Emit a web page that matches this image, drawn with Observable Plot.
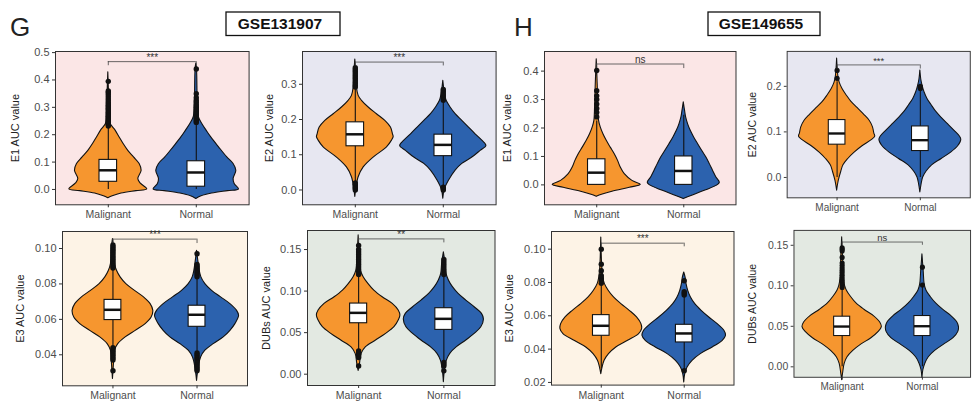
<!DOCTYPE html>
<html><head><meta charset="utf-8">
<script src="https://cdn.jsdelivr.net/npm/d3@7"></script>
<script src="https://cdn.jsdelivr.net/npm/@observablehq/plot@0.6"></script>
<style>
body{margin:0;background:#fff;overflow:hidden;}
#root{position:relative;width:972px;height:403px;overflow:hidden;font-family:"Liberation Sans",Arial,sans-serif;}
.panel{position:absolute;}
#overlay{position:absolute;left:0;top:0;}
</style></head>
<body><div id="root"></div>
<script>
// ---------- categories ----------
const groups = ["Malignant", "Normal"];
const datasets = ["GSE131907", "GSE149655"];
const panelLetters = ["G", "H"];
const fillColors = ["#f6962f", "#2c62ae"];

// ---------- violin density profiles: [value, half-width in band units] ----------
const G_E1_malignant_violin = [[-0.032,0],[-0.025,0.05],[-0.015,0.15],[-0.006,0.32],[0,0.443],[0.022,0.367],[0.038,0.341],[0.068,0.379],[0.093,0.356],[0.117,0.292],[0.141,0.227],[0.166,0.174],[0.19,0.129],[0.215,0.083],[0.227,0.053],[0.239,0.027],[0.276,0.015],[0.324,0.011],[0.428,0]];
const G_E1_normal_violin = [[-0.035,0],[-0.025,0.06],[-0.015,0.18],[-0.006,0.36],[0,0.485],[0.02,0.436],[0.038,0.424],[0.068,0.455],[0.093,0.424],[0.117,0.352],[0.154,0.258],[0.19,0.17],[0.215,0.117],[0.239,0.068],[0.263,0.03],[0.288,0.019],[0.324,0.015],[0.44,0.008],[0.46,0]];
const G_E2_malignant_violin = [[-0.02,0],[0,0.01],[0.036,0.038],[0.064,0.095],[0.092,0.208],[0.121,0.36],[0.14,0.417],[0.15,0.436],[0.158,0.428],[0.177,0.405],[0.196,0.341],[0.215,0.246],[0.234,0.152],[0.253,0.076],[0.267,0.038],[0.29,0.019],[0.33,0.011],[0.37,0]];
const G_E2_normal_violin = [[-0.025,0],[0,0.015],[0.026,0.064],[0.055,0.14],[0.074,0.216],[0.092,0.33],[0.111,0.424],[0.125,0.49],[0.14,0.443],[0.158,0.367],[0.177,0.292],[0.196,0.216],[0.215,0.14],[0.234,0.083],[0.253,0.038],[0.272,0.019],[0.31,0]];
const G_E3_malignant_violin = [[0.0263,0],[0.035,0.012],[0.0423,0.024],[0.046,0.063],[0.0498,0.151],[0.0535,0.27],[0.0573,0.389],[0.061,0.46],[0.0648,0.48],[0.0686,0.448],[0.0724,0.369],[0.0761,0.262],[0.0799,0.159],[0.0837,0.091],[0.0874,0.048],[0.0912,0.024],[0.0987,0.016],[0.1053,0]];
const G_E3_normal_violin = [[0.0253,0],[0.0329,0.02],[0.0385,0.048],[0.0423,0.099],[0.046,0.198],[0.0498,0.317],[0.0535,0.397],[0.0573,0.456],[0.062,0.5],[0.0648,0.476],[0.0686,0.397],[0.0724,0.286],[0.0761,0.179],[0.0799,0.099],[0.0837,0.052],[0.0874,0.032],[0.0912,0.02],[0.0987,0]];
const G_DUBs_malignant_violin = [[0.004,0],[0.0124,0.016],[0.0245,0.035],[0.0325,0.086],[0.0405,0.204],[0.0485,0.322],[0.0565,0.42],[0.0646,0.47],[0.0706,0.49],[0.0766,0.47],[0.0846,0.4],[0.0926,0.282],[0.1006,0.184],[0.1087,0.114],[0.1167,0.059],[0.1247,0.027],[0.1367,0.016],[0.167,0]];
const G_DUBs_normal_violin = [[-0.0096,0],[0.0044,0.012],[0.0164,0.035],[0.0245,0.075],[0.0325,0.153],[0.0405,0.263],[0.0485,0.361],[0.0565,0.439],[0.0658,0.47],[0.0726,0.447],[0.0806,0.361],[0.0886,0.263],[0.0966,0.173],[0.1047,0.106],[0.1127,0.059],[0.1207,0.031],[0.1327,0.02],[0.1467,0]];
const H_E1_malignant_violin = [[-0.042,0],[-0.035,0.06],[-0.024,0.18],[-0.01,0.38],[0,0.506],[0.014,0.41],[0.0375,0.322],[0.061,0.276],[0.0845,0.245],[0.108,0.207],[0.131,0.161],[0.155,0.115],[0.178,0.077],[0.202,0.046],[0.225,0.027],[0.272,0.019],[0.354,0.011],[0.442,0]];
const H_E1_normal_violin = [[-0.05,0],[-0.039,0.088],[-0.021,0.241],[0,0.395],[0.008,0.414],[0.026,0.375],[0.049,0.337],[0.073,0.299],[0.096,0.26],[0.12,0.211],[0.143,0.165],[0.167,0.119],[0.19,0.08],[0.213,0.05],[0.237,0.027],[0.26,0.015],[0.29,0]];
const H_E2_malignant_violin = [[-0.029,0],[-0.008,0.019],[0.0126,0.05],[0.0266,0.076],[0.0406,0.134],[0.0545,0.21],[0.0685,0.305],[0.0825,0.42],[0.0895,0.458],[0.0965,0.447],[0.11,0.431],[0.124,0.393],[0.138,0.324],[0.152,0.248],[0.166,0.172],[0.18,0.115],[0.194,0.065],[0.208,0.031],[0.222,0.015],[0.261,0]];
const H_E2_normal_violin = [[-0.033,0],[-0.015,0.015],[0,0.034],[0.0126,0.073],[0.0266,0.141],[0.0406,0.256],[0.0545,0.37],[0.0685,0.454],[0.0825,0.492],[0.0895,0.477],[0.103,0.408],[0.117,0.332],[0.131,0.256],[0.145,0.187],[0.159,0.134],[0.173,0.084],[0.187,0.05],[0.201,0.027],[0.215,0.011],[0.235,0]];
const H_E3_malignant_violin = [[0.025,0],[0.029,0.016],[0.033,0.04],[0.037,0.093],[0.041,0.181],[0.045,0.323],[0.049,0.456],[0.052,0.492],[0.055,0.484],[0.059,0.431],[0.063,0.343],[0.067,0.242],[0.071,0.153],[0.075,0.089],[0.079,0.044],[0.083,0.024],[0.089,0.012],[0.107,0]];
const H_E3_normal_violin = [[0.02,0],[0.025,0.012],[0.029,0.04],[0.033,0.1],[0.037,0.2],[0.041,0.343],[0.045,0.464],[0.048,0.504],[0.051,0.484],[0.055,0.403],[0.059,0.302],[0.063,0.21],[0.067,0.133],[0.071,0.081],[0.075,0.048],[0.079,0.028],[0.083,0.016],[0.086,0]];
const H_DUBs_malignant_violin = [[-0.0165,0],[-0.0078,0.012],[0.0039,0.032],[0.0118,0.067],[0.0196,0.138],[0.0274,0.237],[0.0353,0.364],[0.0431,0.455],[0.049,0.494],[0.0548,0.474],[0.0627,0.395],[0.0705,0.277],[0.0783,0.178],[0.0862,0.111],[0.094,0.059],[0.0999,0.036],[0.1097,0.02],[0.133,0.012],[0.16,0]];
const H_DUBs_normal_violin = [[-0.0137,0],[-0.0039,0.012],[0.0039,0.036],[0.0118,0.079],[0.0196,0.158],[0.0274,0.269],[0.0353,0.387],[0.0431,0.447],[0.049,0.455],[0.0548,0.435],[0.0627,0.36],[0.0705,0.257],[0.0783,0.17],[0.0862,0.103],[0.094,0.051],[0.1018,0.028],[0.1175,0.016],[0.139,0]];

// ---------- box stats: [lower whisker, Q1, median, Q3, upper whisker] for Malignant, Normal ----------
const G_E1_box = [[0, 0.028, 0.07, 0.108, 0.228], [0, 0.01, 0.062, 0.103, 0.24]];
const G_E2_box = [[0.02, 0.124, 0.158, 0.192, 0.29], [0.01, 0.096, 0.128, 0.157, 0.25]];
const G_E3_box = [[0.045, 0.0596, 0.0654, 0.071, 0.088], [0.042, 0.0558, 0.0626, 0.0677, 0.085]];
const G_DUBs_box = [[0.028, 0.0613, 0.0738, 0.085, 0.12], [0.015, 0.0533, 0.0666, 0.0794, 0.12]];
const H_E1_box = [[0, 0, 0.043, 0.09, 0.225], [0, 0, 0.049, 0.1, 0.245]];
const H_E2_box = [[0, 0.072, 0.0965, 0.126, 0.21], [0, 0.058, 0.0818, 0.112, 0.195]];
const H_E3_box = [[0.028, 0.048, 0.054, 0.0604, 0.078], [0.028, 0.044, 0.0494, 0.0546, 0.072]];
const H_DUBs_box = [[0, 0.038, 0.0497, 0.0619, 0.097], [0, 0.038, 0.0501, 0.0627, 0.1]];

// ---------- outliers ----------
const G_E1_malignant_out = [0.232,0.237,0.242,0.247,0.252,0.257,0.262,0.267,0.272,0.277,0.282,0.287,0.292,0.297,0.302,0.307,0.312,0.318,0.325,0.332,0.34,0.348,0.355,0.36,0.395];
const G_E1_normal_out = [0.245,0.25,0.255,0.26,0.265,0.27,0.275,0.28,0.285,0.29,0.295,0.3,0.305,0.31,0.318,0.325,0.335,0.35,0.44];
const G_E2_malignant_out = [0,0.004,0.008,0.012,0.016,0.02,0.292,0.297,0.302,0.307,0.312,0.317,0.322,0.327,0.332,0.337,0.342,0.347];
const G_E2_normal_out = [0,0.004,0.008,0.255,0.26,0.265,0.27,0.275,0.28,0.285];
const G_E3_malignant_out = [0.031,0.037,0.038,0.039,0.04,0.041,0.042,0.043,0.044,0.089,0.09,0.091,0.092,0.093,0.094,0.095,0.096,0.097,0.098,0.099,0.1,0.101,0.102];
const G_E3_normal_out = [0.031,0.032,0.033,0.034,0.035,0.036,0.037,0.038,0.039,0.04,0.041,0.084,0.085,0.086,0.087,0.088,0.089,0.09,0.091,0.097];
const G_DUBs_malignant_out = [0.01,0.02,0.022,0.024,0.026,0.028,0.12,0.123,0.126,0.129,0.132,0.135,0.138,0.141,0.144,0.147,0.15,0.155];
const G_DUBs_normal_out = [0.004,0.01,0.012,0.014,0.12,0.123,0.126,0.129,0.132,0.135,0.138];
const H_E1_malignant_out = [0.239,0.255,0.269,0.284,0.3,0.313,0.331,0.402];
const H_E1_normal_out = [];
const H_E2_malignant_out = [0.2175,0.235];
const H_E2_normal_out = [0.195,0.198,0.2];
const H_E3_malignant_out = [0.0795,0.081,0.0825,0.084,0.087,0.091,0.1];
const H_E3_normal_out = [0.027,0.0725,0.0735,0.0745,0.081];
const H_DUBs_malignant_out = [0.098,0.101,0.104,0.107,0.11,0.113,0.116,0.119,0.122,0.125,0.128,0.135,0.143,0.145,0.147];
const H_DUBs_normal_out = [0.101,0.123];

// ---------- significance: [bracket value, tick end value, label] ----------
const G_E1_sig = [0.467, 0.452, "***"];
const G_E2_sig = [0.363, 0.352, "***"];
const G_E3_sig = [0.1053, 0.1028, "***"];
const G_DUBs_sig = [0.1628, 0.158, "**"];
const H_E1_sig = [0.425, 0.409, "ns"];
const H_E2_sig = [0.247, 0.238, "***"];
const H_E3_sig = [0.1036, 0.1014, "***"];
const H_DUBs_sig = [0.154, 0.15, "ns"];

// ---------- y ticks ----------
const E1_ticks_G = [0, 0.1, 0.2, 0.3, 0.4, 0.5];
const E2_ticks_G = [0, 0.1, 0.2, 0.3];
const E3_ticks_G = [0.04, 0.06, 0.08, 0.10];
const DUBs_ticks = [0, 0.05, 0.10, 0.15];
const E1_ticks_H = [0, 0.1, 0.2, 0.3, 0.4];
const E2_ticks_H = [0, 0.1, 0.2];
const E3_ticks_H = [0.02, 0.04, 0.06, 0.08, 0.10];

const f1 = d3.format(".1f"), f2 = d3.format(".2f");

// layout: frame [left, top, right, bottom] in page px, y-domain, label offset
const panels = [
  {frame:[55,50.7,248.6,204], dom:[-0.056,0.504], ticks:E1_ticks_G, fmt:f1, label:"E1 AUC value", lo:40, bg:"#fbe6e6", v:[G_E1_malignant_violin,G_E1_normal_violin], box:G_E1_box, out:[G_E1_malignant_out,G_E1_normal_out], sig:G_E1_sig},
  {frame:[302,50.7,495.6,204], dom:[-0.042,0.393], ticks:E2_ticks_G, fmt:f1, label:"E2 AUC value", lo:33, bg:"#e7e7f1", v:[G_E2_malignant_violin,G_E2_normal_violin], box:G_E2_box, out:[G_E2_malignant_out,G_E2_normal_out], sig:G_E2_sig},
  {frame:[62,230.7,247,385], dom:[0.0225,0.1096], ticks:E3_ticks_G, fmt:f2, label:"E3 AUC value", lo:42, bg:"#fdf3e6", v:[G_E3_malignant_violin,G_E3_normal_violin], box:G_E3_box, out:[G_E3_malignant_out,G_E3_normal_out], sig:G_E3_sig},
  {frame:[306.5,230,494,385], dom:[-0.0136,0.1729], ticks:DUBs_ticks, fmt:f2, label:"DUBs AUC value", lo:41.5, bg:"#e3e9e2", v:[G_DUBs_malignant_violin,G_DUBs_normal_violin], box:G_DUBs_box, out:[G_DUBs_malignant_out,G_DUBs_normal_out], sig:G_DUBs_sig},
  {frame:[544,50.7,735.5,204], dom:[-0.070,0.469], ticks:E1_ticks_H, fmt:f1, label:"E1 AUC value", lo:37, bg:"#fbe6e6", v:[H_E1_malignant_violin,H_E1_normal_violin], box:H_E1_box, out:[H_E1_malignant_out,H_E1_normal_out], sig:H_E1_sig},
  {frame:[789.3,50.7,981,204], dom:[-0.0447,0.2767], ticks:E2_ticks_H, fmt:f1, label:"E2 AUC value", lo:36, bg:"#e7e7f1", v:[H_E2_malignant_violin,H_E2_normal_violin], box:H_E2_box, out:[H_E2_malignant_out,H_E2_normal_out], sig:H_E2_sig},
  {frame:[551,230.7,733.5,384.3], dom:[0.0184,0.1106], ticks:E3_ticks_H, fmt:f2, label:"E3 AUC value", lo:42, bg:"#fdf3e6", v:[H_E3_malignant_violin,H_E3_normal_violin], box:H_E3_box, out:[H_E3_malignant_out,H_E3_normal_out], sig:H_E3_sig},
  {frame:[796,230,981.5,384.3], dom:[-0.0129,0.1684], ticks:DUBs_ticks, fmt:f2, label:"DUBs AUC value", lo:43, bg:"#e3e9e2", v:[H_DUBs_malignant_violin,H_DUBs_normal_violin], box:H_DUBs_box, out:[H_DUBs_malignant_out,H_DUBs_normal_out], sig:H_DUBs_sig}
];

const root = document.getElementById("root");
const ML = 52, MR = 2, MT = 2, MB = 24;
const BOXW = 0.1;
const INK = "#111";

for (const p of panels) {
  const [L, T, R, B] = p.frame;
  const marks = [Plot.frame({fill: p.bg})];
  groups.forEach((name, i) => {
    const g = i + 1;
    marks.push(Plot.areaX(p.v[i], {y: d => d[0], x1: d => g - d[1], x2: d => g + d[1], fill: fillColors[i], stroke: INK, strokeWidth: 1.1, curve: "catmull-rom"}));
  });
  groups.forEach((name, i) => {
    const g = i + 1, b = p.box[i];
    marks.push(Plot.ruleX([b], {x: () => g, y1: d => d[0], y2: d => d[4], stroke: INK, strokeWidth: 1.1}));
    marks.push(Plot.rect([b], {x1: () => g - BOXW, x2: () => g + BOXW, y1: d => d[1], y2: d => d[3], fill: "white", stroke: INK, strokeWidth: 1.1}));
    marks.push(Plot.ruleY([b], {y: d => d[2], x1: () => g - BOXW, x2: () => g + BOXW, stroke: INK, strokeWidth: 2.5}));
    marks.push(Plot.dot(p.out[i], {x: () => g, y: d => d, r: 2.7, fill: INK, stroke: "none"}));
  });
  const s = p.sig;
  marks.push(Plot.ruleY([s], {y: d => d[0], x1: () => 1, x2: () => 2, stroke: "#444", strokeWidth: 0.8}));
  marks.push(Plot.ruleX([1, 2], {x: d => d, y1: () => s[0], y2: () => s[1], stroke: "#444", strokeWidth: 0.8}));
  marks.push(Plot.text([s], {x: () => 1.5, y: d => d[0], text: d => d[2], lineAnchor: "bottom", dy: -1, fontSize: 10, fill: "#333"}));
  marks.push(Plot.frame({stroke: "#333", strokeWidth: 1}));
  marks.push(Plot.axisY({ticks: p.ticks, tickFormat: p.fmt, tickSize: 3, tickPadding: 3, fontSize: 11, label: null, stroke: "#333", color: "#4d4d4d"}));
  marks.push(Plot.axisX({ticks: [1, 2], tickFormat: d => groups[d - 1], tickSize: 3, tickPadding: 3, fontSize: 10.5, label: null, stroke: "#333"}));
  marks.push(Plot.text([p.label], {frameAnchor: "left", text: d => d, rotate: -90, dx: -p.lo, fontSize: 11, fill: "#222", textAnchor: "middle"}));

  const chart = Plot.plot({
    width: ML + (R - L) + MR,
    height: MT + (B - T) + MB,
    marginLeft: ML, marginRight: MR, marginTop: MT, marginBottom: MB,
    x: {domain: [0.4, 2.6]},
    y: {domain: p.dom},
    style: {fontFamily: '"Liberation Sans", Arial, sans-serif', color: "#4d4d4d", background: "transparent", overflow: "visible"},
    marks
  });
  const div = document.createElement("div");
  div.className = "panel";
  div.style.left = (L - ML) + "px";
  div.style.top = (T - MT) + "px";
  div.appendChild(chart);
  root.appendChild(div);
}

// headers
const ov = d3.select(root).append("svg").attr("id", "overlay").attr("width", 972).attr("height", 45);
const letterX = [10, 514];
const boxes = [[226, 340], [708, 820]];
panelLetters.forEach((t, i) => {
  ov.append("text").attr("x", letterX[i]).attr("y", 35.5).attr("font-size", 26).attr("fill", "#222")
    .attr("font-family", '"Liberation Sans", Arial, sans-serif').text(t);
  const [x0, x1] = boxes[i];
  ov.append("rect").attr("x", x0).attr("y", 12).attr("width", x1 - x0).attr("height", 23.5)
    .attr("fill", "white").attr("stroke", "#111").attr("stroke-width", 1.3);
  ov.append("text").attr("x", (x0 + x1) / 2 - 3).attr("y", 29.3).attr("text-anchor", "middle")
    .attr("font-size", 15.5).attr("font-weight", "bold").attr("fill", "#111")
    .attr("font-family", '"Liberation Sans", Arial, sans-serif').text(datasets[i]);
});
</script></body></html>
